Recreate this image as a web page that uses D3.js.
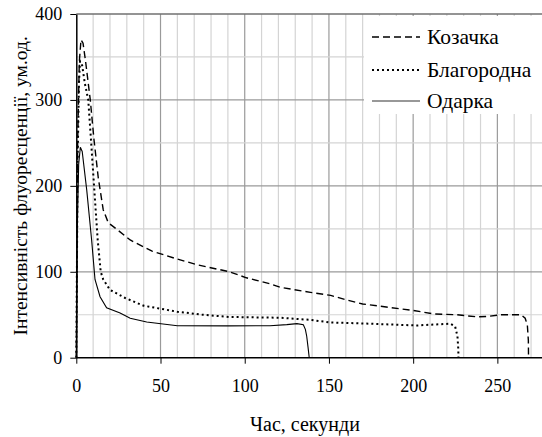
<!DOCTYPE html>
<html>
<head>
<meta charset="utf-8">
<script src="https://cdn.jsdelivr.net/npm/d3@7"></script>
</head>
<body style="margin:0">
<svg id="chart" width="542" height="437"></svg>
<script>
// time (s) / fluorescence values
var kozachkaT = [0, 0.8, 1.8, 2.8, 4, 5.5, 8.3, 10.5, 13, 16, 19, 25, 32, 45, 58, 72, 91, 101, 115, 121, 139, 151, 161, 170, 184, 200, 212, 226, 238, 244, 252, 264, 266.5, 267.8, 268.4, 268.5];
var kozachkaV = [0, 250, 345, 370, 366, 345, 300, 254, 210, 172, 157, 148, 137, 124, 116, 108, 100, 93, 86, 82, 76, 72.5, 67, 62.5, 59, 55, 51, 50, 47.5, 48, 50, 50, 46, 38, 20, 0];

var blagorodnaT = [0, 0.8, 1.6, 2.2, 3.5, 5, 7.1, 8.7, 10.5, 12.7, 14.5, 16, 20, 29, 40, 60, 75, 91, 121, 139, 151, 174, 202, 222, 224.9, 226.3, 226.8, 226.9];
var blagorodnaV = [0, 230, 320, 345, 340, 320, 300, 254, 201, 137, 100, 91, 79, 69.5, 60.5, 53.5, 50, 47.4, 46.5, 44, 41, 39.6, 37.5, 39.6, 36.5, 25, 10, 0];

var odarkaT = [0, 0.6, 1.4, 2.4, 3.5, 6.2, 9.1, 11.1, 14.1, 18, 26, 32, 41.8, 60, 90, 115, 125, 131, 134.8, 136, 136.8, 137.6, 138.3];
var odarkaV = [0, 150, 225, 245, 240, 195, 137, 91, 71, 58, 52, 46, 41.5, 37.2, 37, 37.2, 38.5, 39.6, 38.4, 33, 25, 12, 0];

var seriesNames = ["Козачка", "Благородна", "Одарка"];
var xTicks = [0, 50, 100, 150, 200, 250];
var yTicks = [0, 100, 200, 300, 400];

var FONT = "Liberation Serif";
var W = 542, H = 437;
var x = d3.scaleLinear().domain([0, 280]).range([76.3, 547.9]);
var y = d3.scaleLinear().domain([0, 400]).range([357.7, 14]);

var svg = d3.select("#chart");

// gridlines: minor every 10 s / 50 units, major every 50 s / 100 units
var g = svg.append("g");
g.selectAll("line.vx").data(d3.range(10, 280, 10))
  .join("line")
  .attr("x1", function (d) { return x(d); }).attr("x2", function (d) { return x(d); })
  .attr("y1", y(0)).attr("y2", y(400))
  .attr("stroke", function (d) { return d % 50 === 0 ? "#9a9a9a" : "#d4d4d4"; })
  .attr("stroke-width", 1.2);
g.selectAll("line.hy").data(d3.range(50, 401, 50))
  .join("line")
  .attr("x1", x(0)).attr("x2", W)
  .attr("y1", function (d) { return y(d); }).attr("y2", function (d) { return y(d); })
  .attr("stroke", function (d) { return d % 100 === 0 ? (d === 400 ? "#707070" : "#9a9a9a") : "#d4d4d4"; })
  .attr("stroke-width", function (d) { return d === 400 ? 1.6 : 1.2; });

// legend background hides the grid
svg.append("rect").attr("x", 364).attr("y", 16).attr("width", 180).attr("height", 98).attr("fill", "#fff");

// axes
var xAxis = svg.append("g").attr("transform", "translate(0," + y(0) + ")")
  .call(d3.axisBottom(x).tickValues(xTicks).tickSize(6).tickPadding(16).tickSizeOuter(0));
xAxis.select(".domain").attr("d", "M" + x(0) + ",0H" + W).attr("stroke", "#000").attr("stroke-width", 1.5);

var yAxis = svg.append("g").attr("transform", "translate(" + x(0) + ",0)")
  .call(d3.axisLeft(y).tickValues(yTicks).tickSize(6).tickPadding(8).tickSizeOuter(0));
yAxis.select(".domain").attr("stroke", "#000").attr("stroke-width", 1.5);

xAxis.attr("font-family", FONT).attr("font-size", 18);
yAxis.attr("font-family", FONT).attr("font-size", 18);
svg.selectAll(".tick line").attr("stroke", "#000");
svg.selectAll(".tick text").style("font-family", FONT).attr("fill", "#000");

svg.append("text").attr("x", 305).attr("y", 431).attr("text-anchor", "middle")
  .style("font-family", FONT).attr("font-size", 20).text("Час, секунди");
svg.append("text").attr("transform", "translate(27," + ((y(0) + y(400)) / 2) + ") rotate(-90)")
  .attr("text-anchor", "middle").style("font-family", FONT).attr("font-size", 19.5)
  .text("Інтенсивність флуоресценції, ум.од.");

// curves
var line = d3.line().x(function (d) { return x(d[0]); }).y(function (d) { return y(d[1]); });
var styles = [
  { t: kozachkaT, v: kozachkaV, dash: "7,4", w: 1.4 },
  { t: blagorodnaT, v: blagorodnaV, dash: "2,3", w: 2 },
  { t: odarkaT, v: odarkaV, dash: null, w: 1.1 }
];
styles.forEach(function (s) {
  svg.append("path")
    .datum(d3.zip(s.t, s.v))
    .attr("d", line)
    .attr("fill", "none").attr("stroke", "#000")
    .attr("stroke-width", s.w)
    .attr("stroke-dasharray", s.dash);
});

// legend
var legendY = [37, 70, 101];
seriesNames.forEach(function (name, i) {
  var s = styles[i];
  svg.append("line").attr("x1", 372).attr("x2", 420)
    .attr("y1", legendY[i]).attr("y2", legendY[i])
    .attr("stroke", i === 2 ? "#333" : "#000").attr("stroke-width", s.w)
    .attr("stroke-dasharray", s.dash);
  svg.append("text").attr("x", 427).attr("y", legendY[i] + 7)
    .style("font-family", FONT).attr("font-size", 21.5).text(name);
});
</script>
</body>
</html>
